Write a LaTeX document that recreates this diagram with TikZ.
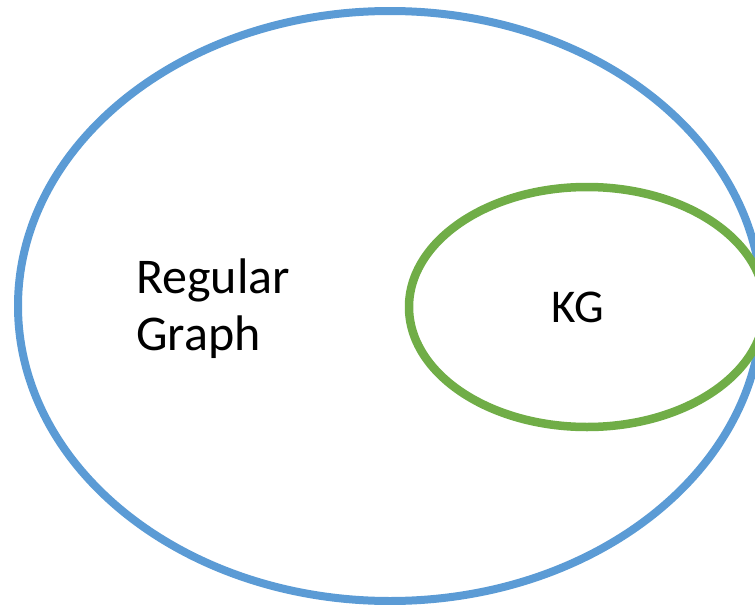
\documentclass[tikz,border=0pt]{standalone}
\usepackage{fontspec}
\setmainfont{Carlito}
\definecolor{vennblue}{HTML}{5B9BD5}
\definecolor{venngreen}{HTML}{70AD47}
\tikzset{
  setline/.style={line width=8pt},
  label text/.style={inner sep=0pt, text=black}
}
\begin{document}
\begin{tikzpicture}[x=1pt,y=-1pt]
\useasboundingbox (0,0) rectangle (755,605);
\coordinate (regular) at (390,306);
\coordinate (kg) at (587,307);
\draw[setline, draw=vennblue] (regular) ellipse [x radius=372pt, y radius=295pt];
\draw[setline, draw=venngreen, line width=8.5pt] (kg) ellipse [x radius=178pt, y radius=120pt];
\node[label text, font=\fontsize{50}{57}\selectfont, align=left, anchor=base west] (regtext) at (136,350) {Regular\\Graph};
\node[label text, font=\fontsize{47}{57}\selectfont, anchor=base] (kgtext) at (578,322) {KG};
\end{tikzpicture}
\end{document}
